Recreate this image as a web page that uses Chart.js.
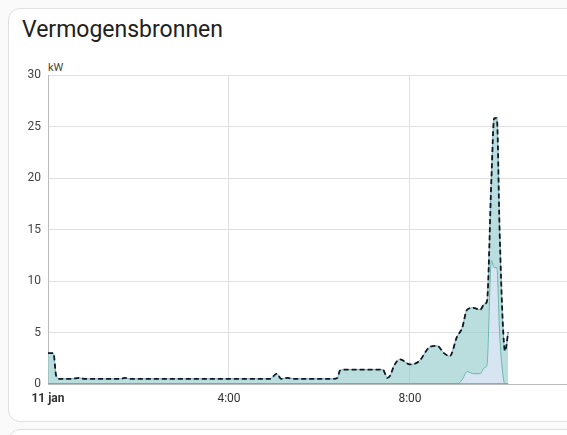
<!DOCTYPE html>
<html>
<head>
<meta charset="utf-8">
<script src="https://cdn.jsdelivr.net/npm/chart.js@4"></script>
<style>
body{margin:0;width:567px;height:435px;overflow:hidden;background:#fafafa;font-family:Roboto,sans-serif;position:relative}
.card{position:absolute;left:8px;top:8px;width:600px;height:412px;background:#fff;border:1px solid #e0e0e0;border-radius:12px}
.card2{position:absolute;left:8px;top:429px;width:600px;height:40px;background:#fff;border:1px solid #e0e0e0;border-radius:12px}
h1{position:absolute;left:22px;top:16px;margin:0;font-weight:400;font-size:23px;color:#212121}
.unit{position:absolute;left:48px;top:61px;font-size:11px;color:#444}
canvas{position:absolute;left:0;top:0}
</style>
</head>
<body>
<div class="card"></div>
<div class="card2"></div>
<h1>Vermogensbronnen</h1>
<div class="unit">kW</div>
<canvas id="c" width="567" height="435"></canvas>
<script>
const hours=[0,0.12,0.18,0.25,0.5,0.7,0.8,1.0,1.6,1.7,1.8,2.5,3.0,4.0,4.9,5.06,5.15,5.3,5.4,6.3,6.4,6.45,6.6,7.0,7.4,7.5,7.56,7.65,7.78,8.0,8.2,8.44,8.6,8.75,8.88,9.04,9.15,9.26,9.4,9.55,9.65,9.7,9.8,9.86,9.92,9.98,10.05,10.1,10.17];
const total=[3.0,3.0,0.8,0.5,0.5,0.6,0.5,0.5,0.5,0.6,0.5,0.5,0.5,0.5,0.5,1.0,0.5,0.6,0.5,0.5,0.6,1.3,1.4,1.4,1.4,0.6,0.8,1.8,2.4,1.9,2.2,3.6,3.7,3.0,2.7,4.6,5.4,7.2,7.4,7.2,7.8,8.0,20,25.8,25.8,15,6,3.2,5.0];
const solar=[3.0,3.0,0.8,0.5,0.5,0.6,0.5,0.5,0.5,0.6,0.5,0.5,0.5,0.5,0.5,1.0,0.5,0.6,0.5,0.5,0.6,1.3,1.4,1.4,1.4,0.6,0.8,1.8,2.4,1.9,2.2,3.6,3.7,3.0,2.7,4.6,5.0,6.0,6.4,6.2,6.2,6.2,8,14.5,14.5,10,5,3.2,5.0];
const battery=[0,0,0,0,0,0,0,0,0,0,0,0,0,0,0,0,0,0,0,0,0,0,0,0,0,0,0,0,0,0,0,0,0,0,0,0,0.4,1.2,1.0,1.0,1.6,1.8,12,11.3,11.3,5,1,0,0];
const grid=hours.map(()=>0);
const xTicks={0:"11 jan",4:"4:00",8:"8:00"};

const pts=a=>a.map((v,i)=>({x:hours[i],y:v}));
new Chart(document.getElementById('c'),{
type:'line',
data:{datasets:[
{data:pts(solar),stack:'a',order:3,borderColor:'#6fa0cf',borderWidth:1,backgroundColor:'rgba(140,180,220,0.35)',fill:'origin',pointRadius:0,cubicInterpolationMode:'monotone'},
{data:pts(battery),stack:'a',order:2,borderColor:'#6bb8a8',borderWidth:1,backgroundColor:'rgba(150,215,195,0.45)',fill:'-1',pointRadius:0,cubicInterpolationMode:'monotone'},
{data:pts(grid),stack:'c',order:1,borderColor:'#8a9a7a',borderWidth:1.5,fill:false,pointRadius:0},
{data:pts(total),stack:'b',order:0,borderColor:'#111820',borderWidth:1.8,borderDash:[5,3],fill:false,pointRadius:0,cubicInterpolationMode:'monotone'}
]},
options:{
responsive:false,animation:false,
layout:{padding:{top:75,bottom:20,right:0,left:0}},
plugins:{legend:{display:false},tooltip:{enabled:false}},
scales:{
x:{type:'linear',min:0,max:11.47,
 grid:{color:'#e0e0e0',drawTicks:false},border:{color:'#bbb'},
 afterBuildTicks:s=>{s.ticks=[{value:0},{value:4},{value:8}]},
 afterFit:s=>{s.height=31},
 ticks:{padding:8,color:'#333',maxRotation:0,font:c=>({family:'Roboto',size:12,weight:c.tick&&c.tick.value===0?'bold':'normal'}),callback:v=>xTicks[v]}},
y:{stacked:true,min:0,max:30,
 grid:{color:'#e0e0e0',drawTicks:false},border:{color:'#bbb'},
 afterFit:s=>{s.width=48},
 ticks:{stepSize:5,padding:7,color:'#444',font:{family:'Roboto',size:12}}}
}}
});
</script>
</body>
</html>
